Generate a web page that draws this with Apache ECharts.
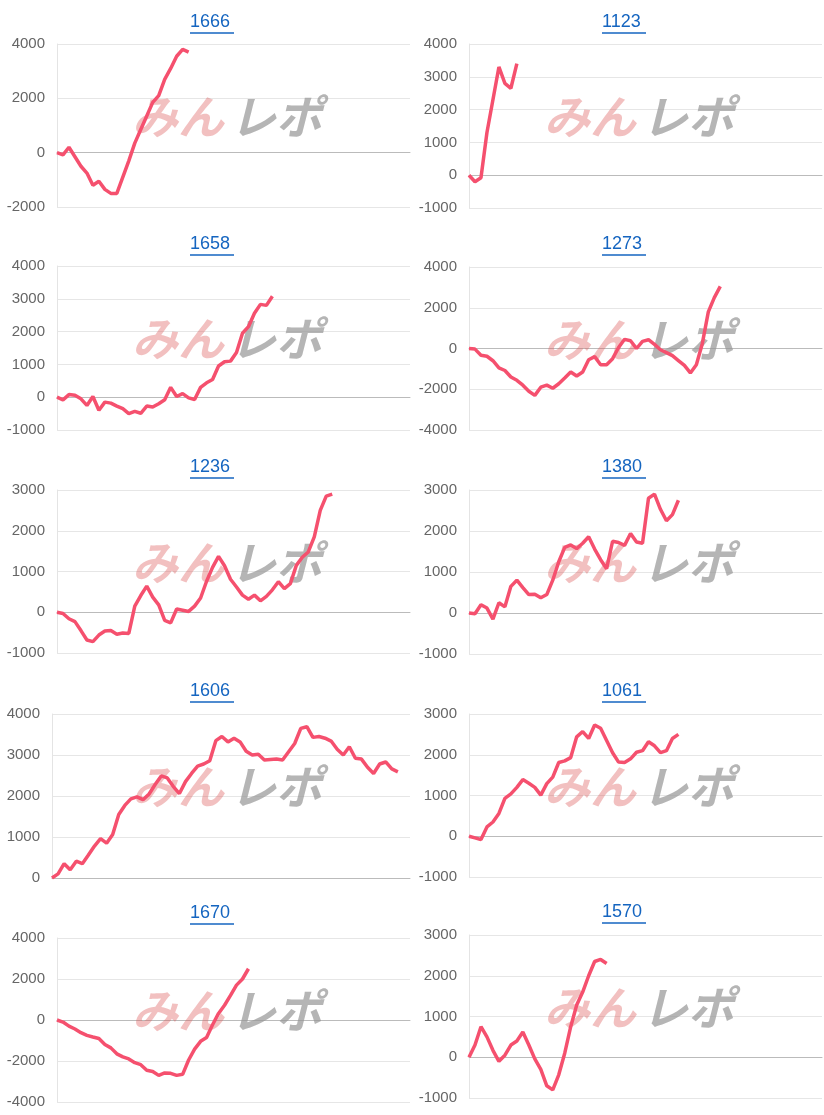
<!DOCTYPE html>
<html>
<head>
<meta charset="utf-8">
<script src="https://cdn.jsdelivr.net/npm/echarts@6/dist/echarts.min.js"></script>
<style>
html, body { margin: 0; padding: 0; background: #fff; }
#main { width: 824px; height: 1115px; }
</style>
</head>
<body>
<div id="main"></div>
<script>
var titles = ['1666', '1123', '1658', '1273', '1236', '1380', '1606', '1061', '1670', '1570'];

var d1666 = [0, -80, 200, -150, -500, -750, -1200, -1050, -1350, -1500, -1500, -900, -300, 350, 850, 1350, 1850, 2100, 2700, 3100, 3550, 3800, 3700];
var d1123 = [0, -200, -80, 1300, 2300, 3300, 2800, 2650, 3400];
var d1658 = [0, -80, 80, 60, -50, -250, 20, -400, -150, -180, -270, -350, -500, -430, -490, -270, -300, -200, -80, 300, 20, 110, -20, -70, 300, 440, 540, 950, 1080, 1100, 1360, 1950, 2150, 2560, 2830, 2800, 3080];
var d1273 = [0, -30, -330, -380, -600, -950, -1080, -1400, -1560, -1800, -2100, -2300, -1900, -1800, -1950, -1730, -1450, -1150, -1350, -1150, -550, -400, -800, -800, -500, 50, 450, 380, 0, 350, 430, 200, -60, -200, -350, -590, -830, -1200, -800, 250, 1800, 2500, 3050];
var d1236 = [0, -30, -160, -230, -450, -680, -720, -560, -460, -450, -540, -510, -520, 150, 410, 640, 370, 180, -200, -260, 80, 50, 20, 150, 350, 760, 1100, 1370, 1140, 810, 620, 420, 320, 420, 280, 390, 550, 750, 580, 700, 1150, 1350, 1480, 1850, 2500, 2850, 2900];
var d1380 = [0, -20, 200, 120, -150, 250, 150, 650, 800, 620, 450, 460, 370, 450, 800, 1250, 1600, 1660, 1570, 1700, 1860, 1560, 1300, 1080, 1750, 1720, 1650, 1940, 1730, 1700, 2800, 2900, 2530, 2250, 2400, 2750];
var d1606 = [0, 100, 350, 200, 410, 350, 560, 780, 960, 850, 1060, 1550, 1770, 1930, 1980, 1910, 2050, 2280, 2490, 2440, 2230, 2060, 2350, 2550, 2730, 2780, 2860, 3350, 3450, 3320, 3410, 3320, 3090, 3000, 3020, 2880, 2890, 2900, 2880, 3080, 3280, 3650, 3690, 3430, 3450, 3410, 3340, 3140, 3000, 3200, 2920, 2900, 2700, 2550, 2780, 2830, 2660, 2590];
var d1061 = [0, -40, -80, 230, 350, 560, 930, 1040, 1200, 1390, 1300, 1200, 1010, 1290, 1450, 1810, 1850, 1930, 2440, 2570, 2400, 2730, 2650, 2350, 2050, 1820, 1810, 1900, 2060, 2100, 2320, 2220, 2050, 2100, 2400, 2500];
var d1670 = [0, -100, -300, -440, -620, -750, -830, -900, -1190, -1360, -1650, -1800, -1900, -2080, -2180, -2450, -2510, -2700, -2580, -2600, -2700, -2650, -1950, -1420, -1040, -850, -230, 320, 720, 1200, 1700, 2000, 2500];
var d1570 = [0, 300, 750, 500, 170, -100, 50, 300, 400, 620, 300, -40, -300, -700, -800, -430, 100, 750, 1280, 1600, 2000, 2350, 2400, 2300];

var seriesData = [d1666, d1123, d1658, d1273, d1236, d1380, d1606, d1061, d1670, d1570];
var yMin = [-2000, -1000, -1000, -4000, -1000, -1000, 0, -1000, -4000, -1000];
var yMax = [4000, 4000, 4000, 4000, 3000, 3000, 4000, 3000, 4000, 3000];
var yStep = [2000, 1000, 1000, 2000, 1000, 1000, 1000, 1000, 2000, 1000];

var slots = [];
for (var s = 0; s < 60; s++) slots.push(s);

// layout of the panels (px)
var gridTop = [44, 44, 266, 267, 490, 490, 714, 714, 938, 935];
var gridBottom = [207, 208, 430, 430, 653, 654, 878, 877, 1102, 1098];
var gridLeft = [57, 469, 57, 469, 57, 469, 52, 469, 57, 469];
var titleY = [22, 22, 244, 244, 467, 467, 691, 691, 913, 912];

var grids = [], xAxes = [], yAxes = [], series = [], graphics = [];

for (var i = 0; i < 10; i++) {
    var col = i % 2;
    var cx = col === 0 ? 212 : 624;
    grids.push({
        left: gridLeft[i],
        width: (col === 0 ? 410 : 822) - gridLeft[i],
        top: gridTop[i],
        height: gridBottom[i] - gridTop[i]
    });
    xAxes.push({
        gridIndex: i, type: 'category', data: slots, boundaryGap: false,
        axisLine: { onZero: true, lineStyle: { color: '#bbb' } },
        axisTick: { show: false }, axisLabel: { show: false }
    });
    yAxes.push({
        gridIndex: i, type: 'value', min: yMin[i], max: yMax[i], interval: yStep[i],
        axisLine: { show: true, lineStyle: { color: '#e4e4e4' } },
        axisTick: { show: false },
        axisLabel: { color: '#666', fontSize: 15, margin: 12, fontFamily: 'Arial, Liberation Sans',
            formatter: function (v) { return String(v); } },
        splitLine: { lineStyle: { color: '#e6e6e6' } }
    });
    series.push({
        type: 'line', xAxisIndex: i, yAxisIndex: i, data: seriesData[i],
        showSymbol: false, symbol: 'none', z: 3,
        lineStyle: { color: '#f5506e', width: 3.5 }
    });
    // title link
    graphics.push({
        type: 'text', left: cx - 22, top: titleY[i] - 9,
        style: { text: titles[i], fill: '#1565c0', font: '18px Arial, "Liberation Sans"' }
    });
    graphics.push({
        type: 'line', shape: { x1: cx - 22, y1: titleY[i] + 11, x2: cx + 22, y2: titleY[i] + 11 },
        style: { stroke: '#1565c0', lineWidth: 1.5 }
    });
    // watermark
    var wy = gridTop[i] + 50;
    var wx = col === 0 ? 132 : 544;
    graphics.push({
        type: 'text', left: wx, top: wy, z: 1,
        style: { text: 'みん', fill: 'rgba(220,90,90,0.38)', font: 'italic bold 46px "Noto Sans CJK JP"' }
    });
    graphics.push({
        type: 'text', left: wx + 98, top: wy, z: 1,
        style: { text: 'レポ', fill: 'rgba(150,150,150,0.7)', font: 'italic bold 46px "Noto Sans CJK JP"' }
    });
}

var chart = echarts.init(document.getElementById('main'));
chart.setOption({
    animation: false,
    grid: grids,
    xAxis: xAxes,
    yAxis: yAxes,
    series: series,
    graphic: graphics
});
</script>
</body>
</html>
